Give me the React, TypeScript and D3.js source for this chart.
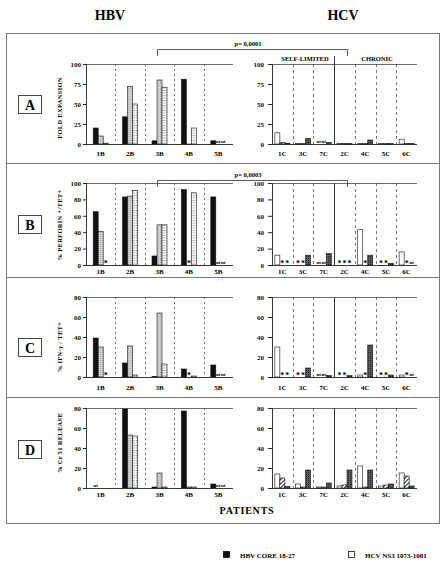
import { useEffect, useRef } from 'react';
import * as d3 from 'd3';

type Cell = number | '*' | 'nt' | null;

const hbvPatients = ['1B', '2B', '3B', '4B', '5B'];
const hcvPatients = ['1C', '3C', '7C', '2C', '4C', '5C', '6C'];

// one row per patient, three epitopes per row
const expansionHbv: Cell[][] = [[20, 10, 1], [34, 72, 50], [4, 80, 71], [81, 0, 20], [4, 'nt', 'nt']];
const expansionHcv: Cell[][] = [[14, 2, 1], [0.5, 0.5, 7], ['nt', 'nt', 2], [0.5, 0.5, 0.5], [0.5, 0.5, 5], [0.5, 0.5, 0.5], [6, 0.5, 0.5]];

const perforinHbv: Cell[][] = [[65, 41, '*'], [83, 84, 91], [11, 49, 49], [92, '*', 88], [83, 'nt', 'nt']];
const perforinHcv: Cell[][] = [[12, '*', '*'], ['*', '*', 12], ['nt', 'nt', 14], ['*', '*', '*'], [43, '*', 12], ['*', '*', 2], [16, '*', 'nt']];

const ifnHbv: Cell[][] = [[39, 30, '*'], [14, 31, 2], [0.5, 64, 13], [8, '*', 1], [12, 'nt', 'nt']];
const ifnHcv: Cell[][] = [[30, '*', '*'], ['*', '*', 9], ['nt', 'nt', 1.5], ['*', '*', 1.5], [2, '*', 32], ['*', '*', 2], [2, '*', 'nt']];

const releaseHbv: Cell[][] = [['nt', null, null], [79, 53, 52], [1, 15, 1], [77, 1, 1], [4, 'nt', 'nt']];
const releaseHcv: Cell[][] = [[14, 10, 1.5], [4, 1, 18], [1, 1, 5], [2, 3, 18], [22, 1, 18], [2, 3, 4], [15, 12, 2]];

const expansionTicks = [0, 25, 50, 75, 100];
const perforinTicks = [0, 20, 40, 60, 80, 100];
const ifnTicks = [0, 20, 40, 60, 80];
const releaseTicks = [0, 20, 40, 60, 80];

const legendItems = ['HBV CORE 18-27', 'HCV NS3 1073-1081'];

const FONT = '"Liberation Serif", "DejaVu Serif", serif';

export default function App() {
  const svgRef = useRef<SVGSVGElement>(null);

  useEffect(() => {
    if (!svgRef.current) return;
    const svg = d3.select(svgRef.current);
    svg.selectAll('*').remove();

    const W = 446;
    const H = 574;
    svg.attr('width', W).attr('height', H);
    svg.append('rect').attr('width', W).attr('height', H).attr('fill', '#fff');

    // fill patterns for the bars
    const defs = svg.append('defs');
    const gray = defs.append('pattern').attr('id', 'gray').attr('patternUnits', 'userSpaceOnUse')
      .attr('width', 2).attr('height', 2);
    gray.append('rect').attr('width', 2).attr('height', 2).attr('fill', '#d2d2d2');
    gray.append('rect').attr('width', 1).attr('height', 1).attr('fill', '#ababab');

    const dots = defs.append('pattern').attr('id', 'dots').attr('patternUnits', 'userSpaceOnUse')
      .attr('width', 2.5).attr('height', 2.5);
    dots.append('rect').attr('width', 2.5).attr('height', 2.5).attr('fill', '#fff');
    dots.append('rect').attr('x', 1.2).attr('width', 0.8).attr('height', 1).attr('fill', '#333');

    const hatch = defs.append('pattern').attr('id', 'hatch').attr('patternUnits', 'userSpaceOnUse')
      .attr('width', 3).attr('height', 3).attr('patternTransform', 'rotate(45)');
    hatch.append('rect').attr('width', 3).attr('height', 3).attr('fill', '#fff');
    hatch.append('rect').attr('width', 1).attr('height', 3).attr('fill', '#222');

    const dark = defs.append('pattern').attr('id', 'dark').attr('patternUnits', 'userSpaceOnUse')
      .attr('width', 2).attr('height', 2);
    dark.append('rect').attr('width', 2).attr('height', 2).attr('fill', '#5a5a5a');
    dark.append('rect').attr('width', 1).attr('height', 1).attr('fill', '#2a2a2a');

    const hbvFills = ['#111', 'url(#gray)', 'url(#dots)'];
    const hcvFills = ['#fff', 'url(#hatch)', 'url(#dark)'];

    // outer frame and panel dividers
    const frame = svg.append('g').attr('stroke', '#7a7a7a').attr('stroke-width', 1).attr('fill', 'none');
    frame.append('rect').attr('x', 6.5).attr('y', 33.5).attr('width', 433).attr('height', 490);
    [163, 277, 397].forEach(y => {
      frame.append('line').attr('x1', 6.5).attr('x2', 439.5).attr('y1', y + 0.5).attr('y2', y + 0.5);
    });

    svg.append('text').attr('x', 110).attr('y', 20).attr('text-anchor', 'middle')
      .style('font', `bold 14px ${FONT}`).text('HBV');
    svg.append('text').attr('x', 343).attr('y', 20).attr('text-anchor', 'middle')
      .style('font', `bold 14px ${FONT}`).text('HCV');

    const panels = [
      { letter: 'A', title: 'FOLD EXPANSION', hbv: expansionHbv, hcv: expansionHcv, ticks: expansionTicks,
        top: 64, bottom: 144, labelY: 156, boxY: 95, titleY: 108, p: 'p=  0,0001', pY: 46, bracketY: 49 },
      { letter: 'B', title: '% PERFORIN +/TET+', hbv: perforinHbv, hcv: perforinHcv, ticks: perforinTicks,
        top: 183, bottom: 265, labelY: 274, boxY: 215, titleY: 225, p: 'p=  0,0003', pY: 177, bracketY: 180 },
      { letter: 'C', title: '% IFN-γ / TET+', hbv: ifnHbv, hcv: ifnHcv, ticks: ifnTicks,
        top: 297, bottom: 377, labelY: 390, boxY: 338, titleY: 347, p: '', pY: 0, bracketY: 0 },
      { letter: 'D', title: '% Cr 51 RELEASE', hbv: releaseHbv, hcv: releaseHcv, ticks: releaseTicks,
        top: 408, bottom: 488, labelY: 497, boxY: 440, titleY: 443, p: '', pY: 0, bracketY: 0 },
    ];

    const drawPlot = (
      parent: d3.Selection<SVGGElement, unknown, null, undefined>,
      rows: Cell[][],
      patients: string[],
      x0: number,
      x1: number,
      panel: typeof panels[number],
      fills: string[],
      dash: string,
      isHcv: boolean
    ) => {
      const g = parent.append('g');
      const max = d3.max(panel.ticks) as number;
      const x = d3.scaleBand<string>().domain(patients).range([x0, x1]);
      const y = d3.scaleLinear().domain([0, max]).range([panel.bottom, panel.top]);
      const barW = 5;
      const inner = d3.scaleBand<number>().domain([0, 1, 2]).range([0, barW * 3]);
      const groupOffset = (x.bandwidth() - barW * 3) / 2;

      // separators between patients; the solid one splits self-limited from chronic
      patients.slice(1).forEach((p, i) => {
        const sx = Math.round(x(p) as number) + 0.5;
        const solid = isHcv && i === 2;
        g.append('line')
          .attr('x1', sx).attr('x2', sx)
          .attr('y1', solid && panel.letter === 'A' ? panel.top - 8 : panel.top)
          .attr('y2', panel.bottom)
          .attr('stroke', solid ? '#222' : '#555')
          .attr('stroke-width', solid ? 0.9 : 0.8)
          .attr('stroke-dasharray', solid ? null : dash);
      });

      g.append('line').attr('x1', x0).attr('x2', x1).attr('y1', panel.top + 0.5).attr('y2', panel.top + 0.5)
        .attr('stroke', '#444').attr('stroke-width', 0.8);

      const cells = rows.flatMap((row, i) => row.map((v, k) => ({ patient: patients[i], k, v })));
      const barX = (d: { patient: string; k: number }) => (x(d.patient) as number) + groupOffset + (inner(d.k) as number);

      g.selectAll('.bar')
        .data(cells.filter(d => typeof d.v === 'number'))
        .enter().append('rect')
        .attr('class', 'bar')
        .attr('x', d => barX(d))
        .attr('y', d => y(d.v as number))
        .attr('width', barW)
        .attr('height', d => Math.max(0.6, panel.bottom - y(d.v as number)))
        .attr('fill', d => fills[d.k])
        .attr('stroke', '#111')
        .attr('stroke-width', 0.6);

      // '*' and 'nt' notes sit where a bar would be
      g.selectAll('.mark')
        .data(cells.filter(d => d.v === '*' || d.v === 'nt'))
        .enter().append('text')
        .attr('class', 'mark')
        .attr('x', d => barX(d) + barW / 2)
        .attr('y', d => (d.v === '*' ? panel.bottom + 1 : panel.bottom - 1.5))
        .attr('text-anchor', 'middle')
        .style('font', d => (d.v === '*' ? `bold 8px ${FONT}` : `bold 5px ${FONT}`))
        .text(d => d.v as string);

      const axis = d3.axisLeft(y).tickValues(panel.ticks).tickSize(isHcv ? 4 : 3).tickPadding(isHcv ? 4 : 2)
        .tickFormat(d3.format('d') as any);
      const ax = g.append('g').attr('transform', `translate(${x0},0)`).call(axis as any);
      ax.select('.domain').attr('stroke', '#222').attr('stroke-width', 0.9);
      ax.selectAll('.tick line').attr('stroke', '#222');
      ax.selectAll('.tick text').style('font', `bold 7px ${FONT}`).attr('fill', '#111');

      g.append('line').attr('x1', x0).attr('x2', x1).attr('y1', panel.bottom + 0.5).attr('y2', panel.bottom + 0.5)
        .attr('stroke', '#222').attr('stroke-width', 0.9);

      g.selectAll('.cat')
        .data(patients)
        .enter().append('text')
        .attr('class', 'cat')
        .attr('x', d => (x(d) as number) + x.bandwidth() / 2)
        .attr('y', panel.labelY)
        .attr('text-anchor', 'middle')
        .style('font', `bold 7px ${FONT}`)
        .text(d => d);
    };

    panels.forEach(panel => {
      const g = svg.append('g');

      g.append('rect').attr('x', 18.5).attr('y', panel.boxY + 0.5).attr('width', 23).attr('height', 18)
        .attr('fill', '#fff').attr('stroke', '#333').attr('stroke-width', 0.9);
      g.append('text').attr('x', 30).attr('y', panel.boxY + 14.5).attr('text-anchor', 'middle')
        .style('font', `bold 14px ${FONT}`).text(panel.letter);

      g.append('text')
        .attr('transform', `translate(62,${panel.titleY}) rotate(-90)`)
        .attr('text-anchor', 'middle')
        .style('font', `bold 6.5px ${FONT}`)
        .style('letter-spacing', '0.3px')
        .text(panel.title);

      drawPlot(g, panel.hbv, hbvPatients, 86, 233, panel, hbvFills, '2,3', false);
      drawPlot(g, panel.hcv, hcvPatients, 272, 417, panel, hcvFills, '3,3', true);

      if (panel.p) {
        g.append('path')
          .attr('d', `M157.5,${panel.bracketY + 7}V${panel.bracketY + 0.5}H347.5V${panel.bracketY + 7}`)
          .attr('fill', 'none').attr('stroke', '#333').attr('stroke-width', 0.8);
        g.append('text').attr('x', 248).attr('y', panel.pY).attr('text-anchor', 'middle')
          .style('font', `bold 6.5px ${FONT}`).text(panel.p);
      }
    });

    svg.append('text').attr('x', 305).attr('y', 61).attr('text-anchor', 'middle')
      .style('font', `bold 6.5px ${FONT}`).text('SELF-LIMITED');
    svg.append('text').attr('x', 377).attr('y', 61).attr('text-anchor', 'middle')
      .style('font', `bold 6.5px ${FONT}`).text('CHRONIC');

    svg.append('text').attr('x', 247).attr('y', 514).attr('text-anchor', 'middle')
      .style('font', `bold 10px ${FONT}`).style('letter-spacing', '0.8px').text('PATIENTS');

    const legend = svg.append('g');
    legendItems.forEach((label, i) => {
      const lx = i === 0 ? 223 : 348;
      legend.append('rect').attr('x', lx + 0.5).attr('y', 551.5).attr('width', 6).attr('height', 6)
        .attr('fill', i === 0 ? '#111' : '#fff').attr('stroke', '#111').attr('stroke-width', 0.8);
      legend.append('text').attr('x', lx + 17).attr('y', 557.5)
        .style('font', `bold 7px ${FONT}`).text(label);
    });
  }, []);

  return <svg ref={svgRef} style={{ position: 'absolute', left: 0, top: 0 }}></svg>;
}
